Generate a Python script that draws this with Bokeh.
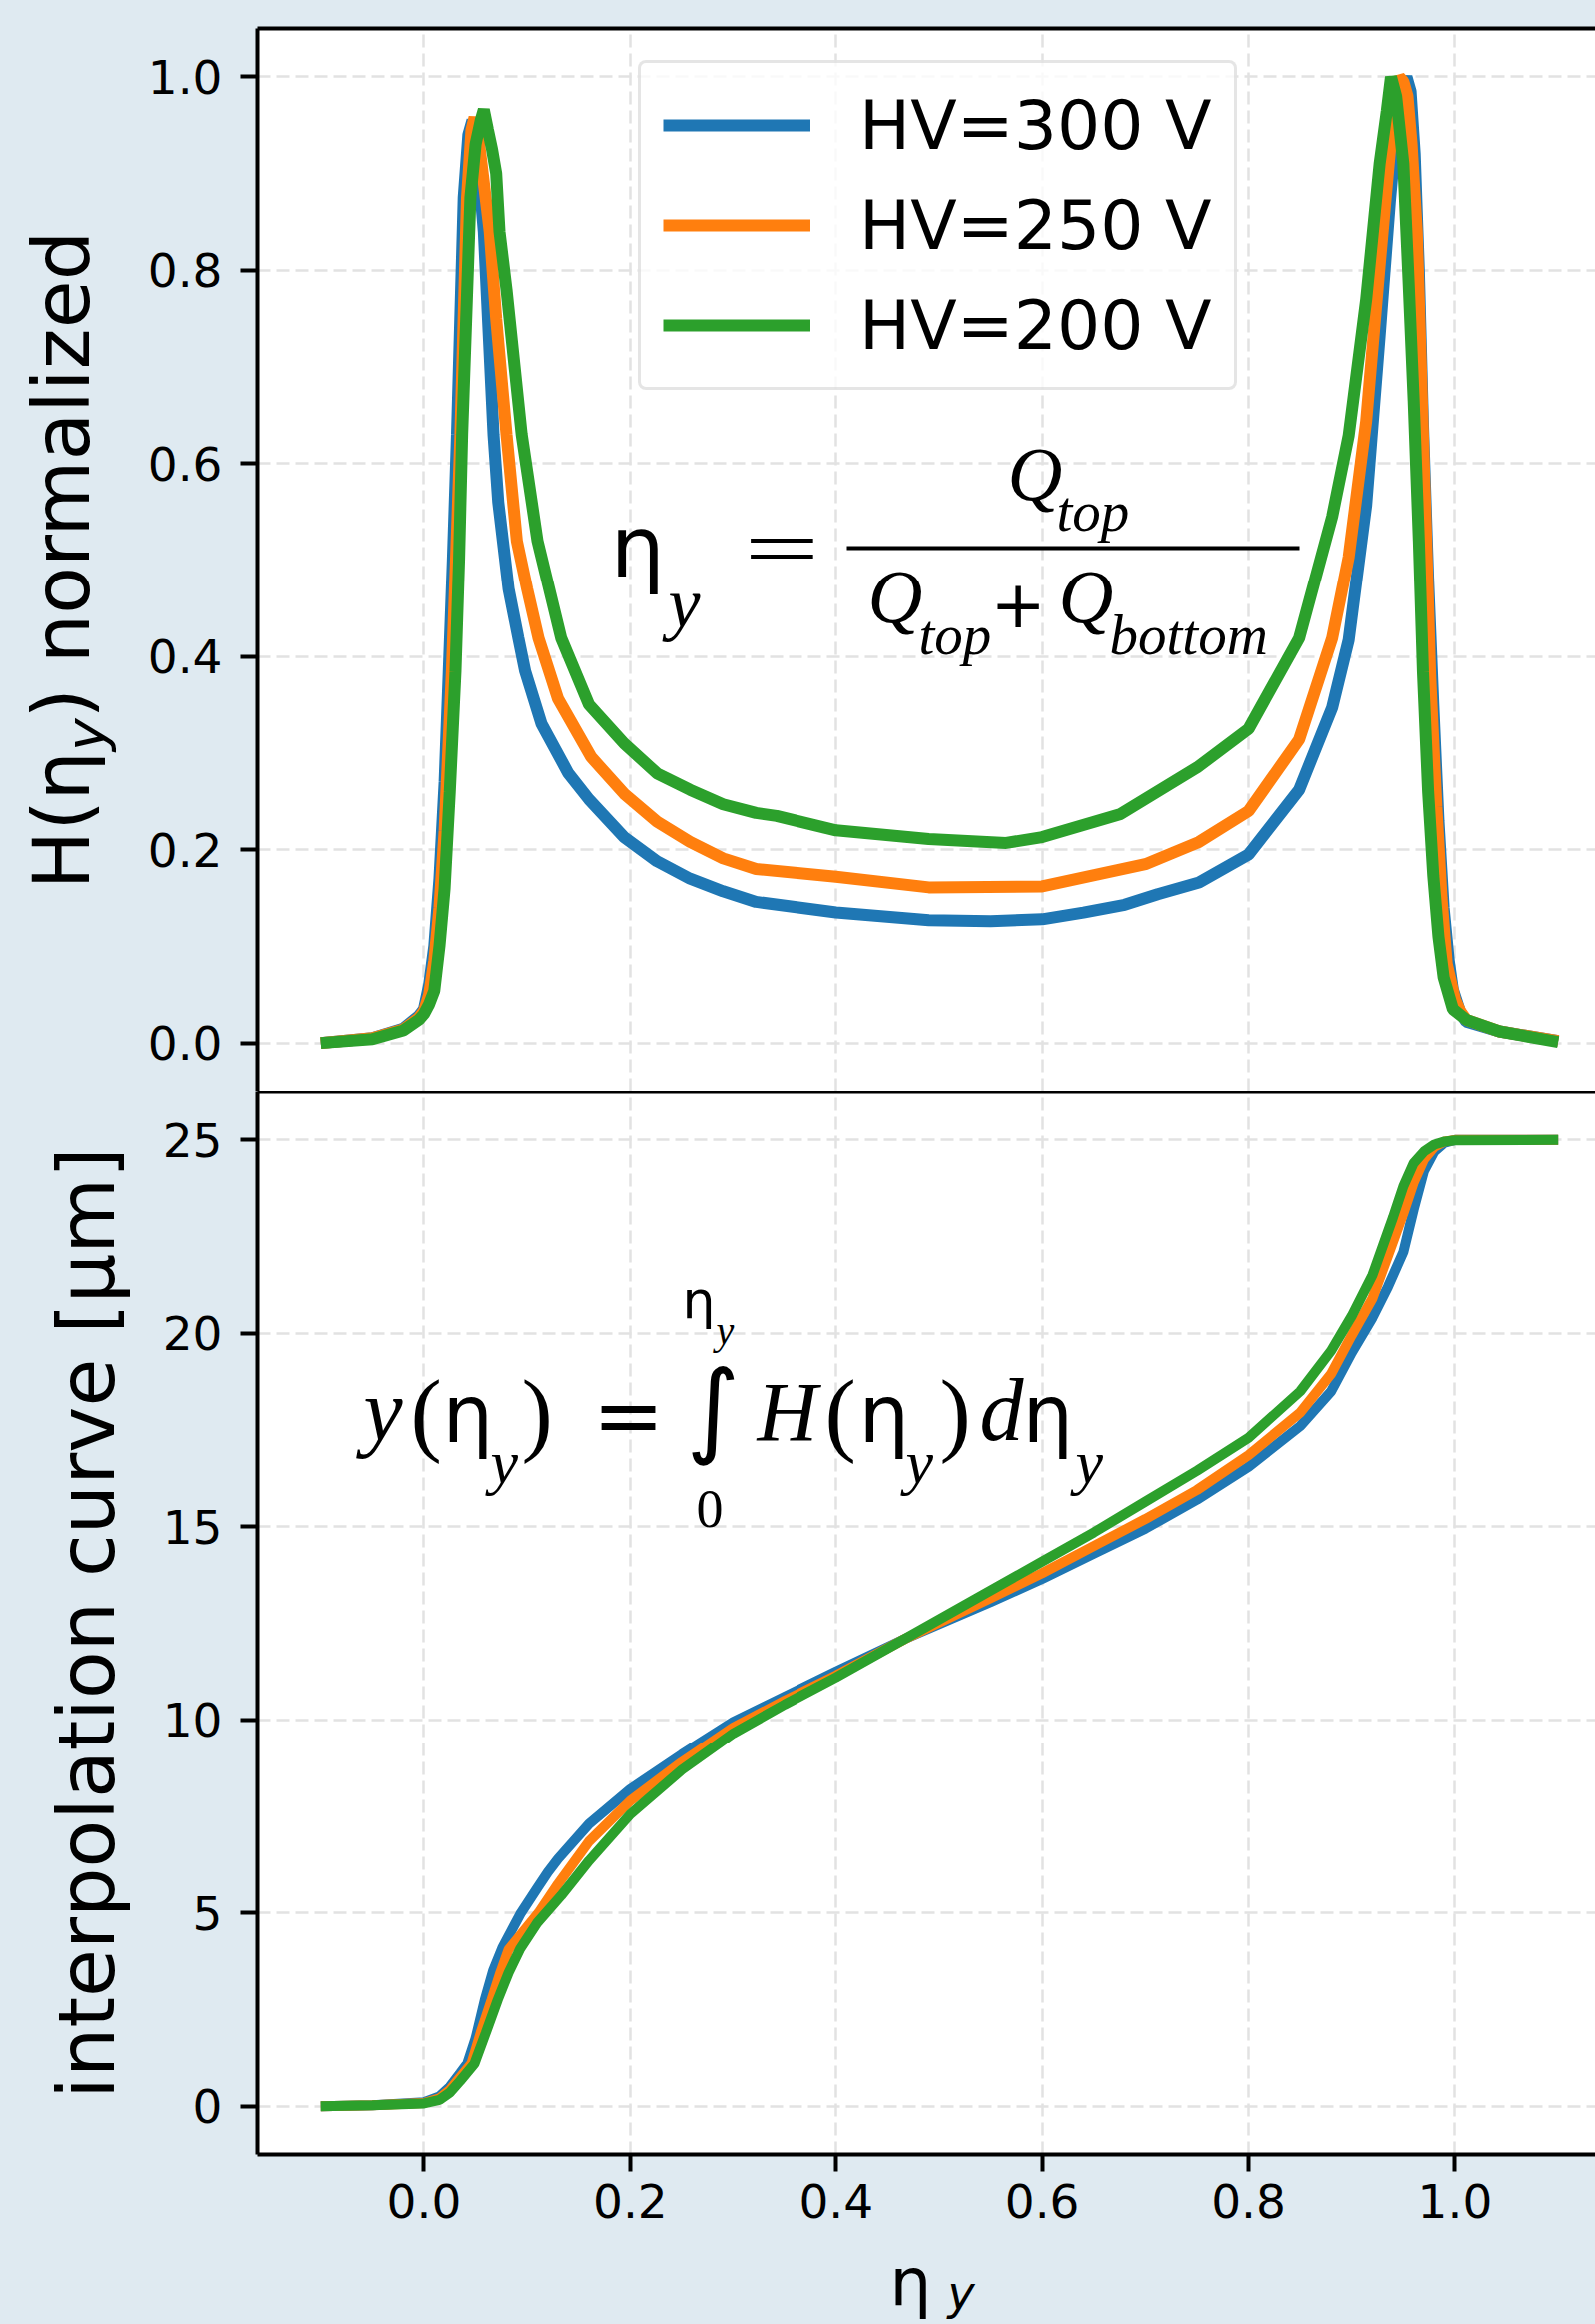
import math
from bokeh.plotting import figure
from bokeh.layouts import column, row
from bokeh.models import (Range1d, LinearAxis, FixedTicker, PrintfTickFormatter,
                          Grid, Label, BoxAnnotation)
from bokeh.embed import file_html
from bokeh.resources import INLINE

# ---------------- data ----------------
series_labels = ["HV=300 V", "HV=250 V", "HV=200 V"]
series_colors = ["#1f77b4", "#ff7f0e", "#2ca02c"]

# top panel: normalised eta distribution H(eta_y)
h300_x = [-0.100, -0.050, -0.020, -0.005, 0.000, 0.005, 0.010, 0.015, 0.020, 0.024, 0.028, 0.032,
          0.0385, 0.043, 0.047, 0.052, 0.058, 0.0674, 0.072, 0.082, 0.0915, 0.098, 0.114, 0.140,
          0.160, 0.194, 0.226, 0.258, 0.290, 0.322, 0.400, 0.490, 0.550, 0.600, 0.640, 0.680,
          0.712, 0.752, 0.800, 0.849, 0.881, 0.897, 0.914, 0.927, 0.937, 0.946, 0.953, 0.957,
          0.961, 0.965, 0.969, 0.974, 0.979, 0.984, 0.989, 0.994, 0.998, 1.005, 1.011, 1.043, 1.100]
h300_y = [0.000, 0.005, 0.015, 0.028, 0.035, 0.060, 0.100, 0.170, 0.270, 0.384, 0.500, 0.630,
          0.875, 0.940, 0.955, 0.915, 0.840, 0.630, 0.560, 0.470, 0.419, 0.385, 0.330, 0.279,
          0.252, 0.213, 0.188, 0.170, 0.157, 0.146, 0.135, 0.127, 0.126, 0.128, 0.135, 0.143,
          0.154, 0.166, 0.195, 0.262, 0.347, 0.417, 0.557, 0.732, 0.872, 0.977, 1.000, 0.985,
          0.920, 0.800, 0.640, 0.480, 0.350, 0.230, 0.140, 0.085, 0.055, 0.032, 0.022, 0.012, 0.002]

h250_x = [-0.100, -0.050, -0.020, -0.005, 0.000, 0.005, 0.010, 0.015, 0.020, 0.027, 0.031, 0.0353,
          0.0417, 0.046, 0.049, 0.053, 0.0637, 0.070, 0.080, 0.090, 0.100, 0.111, 0.130, 0.162,
          0.194, 0.226, 0.258, 0.290, 0.322, 0.400, 0.490, 0.600, 0.700, 0.752, 0.800, 0.849,
          0.881, 0.897, 0.914, 0.927, 0.937, 0.946, 0.950, 0.954, 0.958, 0.963, 0.967, 0.972,
          0.976, 0.982, 0.987, 0.992, 1.000, 1.005, 1.011, 1.043, 1.100]
h250_y = [0.000, 0.005, 0.014, 0.026, 0.033, 0.050, 0.085, 0.140, 0.220, 0.384, 0.500, 0.630,
          0.875, 0.945, 0.958, 0.935, 0.840, 0.750, 0.630, 0.520, 0.470, 0.419, 0.356, 0.296,
          0.258, 0.229, 0.208, 0.191, 0.180, 0.172, 0.161, 0.162, 0.185, 0.208, 0.240, 0.314,
          0.419, 0.503, 0.644, 0.805, 0.924, 1.000, 0.995, 0.980, 0.930, 0.840, 0.700, 0.524,
          0.380, 0.244, 0.150, 0.082, 0.045, 0.033, 0.024, 0.012, 0.002]

h200_x = [-0.100, -0.050, -0.020, -0.005, 0.000, 0.005, 0.010, 0.015, 0.020, 0.025, 0.0305, 0.034,
          0.037, 0.045, 0.050, 0.055, 0.058, 0.062, 0.066, 0.070, 0.0732, 0.080, 0.0947, 0.110,
          0.133, 0.160, 0.194, 0.226, 0.258, 0.290, 0.322, 0.342, 0.400, 0.490, 0.565, 0.600,
          0.676, 0.750, 0.800, 0.849, 0.881, 0.897, 0.914, 0.927, 0.934, 0.938, 0.943, 0.950,
          0.955, 0.960, 0.965, 0.969, 0.974, 0.979, 0.984, 0.989, 0.998, 1.011, 1.043, 1.100]
h200_y = [0.000, 0.004, 0.013, 0.024, 0.030, 0.040, 0.054, 0.100, 0.160, 0.260, 0.384, 0.500,
          0.630, 0.875, 0.930, 0.955, 0.966, 0.945, 0.925, 0.900, 0.840, 0.780, 0.630, 0.520,
          0.419, 0.350, 0.310, 0.279, 0.262, 0.247, 0.238, 0.235, 0.220, 0.211, 0.207, 0.213,
          0.237, 0.285, 0.325, 0.419, 0.545, 0.629, 0.770, 0.910, 0.965, 1.000, 0.980, 0.910,
          0.790, 0.665, 0.520, 0.384, 0.260, 0.173, 0.110, 0.068, 0.035, 0.024, 0.012, 0.001]

# bottom panel: interpolation curve y(eta_y) in micrometres
y300_x = [-0.100, -0.050, 0.000, 0.015, 0.025, 0.035, 0.042, 0.050, 0.059, 0.067, 0.076, 0.094,
          0.110, 0.120, 0.130, 0.160, 0.200, 0.250, 0.300, 0.350, 0.400, 0.467, 0.550, 0.600,
          0.650, 0.700, 0.750, 0.800, 0.850, 0.880, 0.900, 0.920, 0.935, 0.950, 0.960, 0.970,
          0.980, 0.990, 1.000, 1.100]
y300_y = [0.00, 0.02, 0.10, 0.25, 0.50, 0.85, 1.10, 1.75, 2.75, 3.50, 4.10, 5.00,
          5.65, 6.05, 6.40, 7.30, 8.20, 9.10, 9.95, 10.60, 11.25, 12.10, 13.05, 13.65,
          14.30, 14.95, 15.70, 16.55, 17.60, 18.50, 19.50, 20.40, 21.20, 22.10, 23.20, 24.20,
          24.70, 24.93, 25.00, 25.00]

y250_x = [-0.100, -0.050, 0.000, 0.015, 0.025, 0.035, 0.046, 0.055, 0.0655, 0.074, 0.082, 0.111,
          0.130, 0.160, 0.200, 0.250, 0.300, 0.350, 0.400, 0.467, 0.550, 0.600, 0.650, 0.700,
          0.750, 0.800, 0.850, 0.880, 0.900, 0.920, 0.935, 0.950, 0.960, 0.970, 0.980, 0.990,
          1.000, 1.100]
y250_y = [0.00, 0.02, 0.08, 0.20, 0.42, 0.75, 1.10, 1.90, 2.75, 3.45, 4.05, 5.00,
          5.75, 6.85, 7.90, 8.90, 9.80, 10.50, 11.15, 12.10, 13.15, 13.80, 14.50, 15.20,
          15.95, 16.85, 17.95, 18.95, 19.95, 20.90, 22.00, 23.10, 23.90, 24.50, 24.82, 24.96,
          25.00, 25.00]

y200_x = [-0.100, -0.050, 0.000, 0.015, 0.025, 0.035, 0.049, 0.060, 0.0715, 0.082, 0.093, 0.110,
          0.133, 0.160, 0.200, 0.250, 0.300, 0.350, 0.400, 0.467, 0.550, 0.600, 0.650, 0.700,
          0.750, 0.800, 0.850, 0.880, 0.900, 0.920, 0.940, 0.950, 0.960, 0.970, 0.980, 0.990,
          1.000, 1.100]
y200_y = [0.00, 0.02, 0.07, 0.16, 0.35, 0.65, 1.10, 1.90, 2.75, 3.45, 4.06, 4.75,
          5.45, 6.35, 7.55, 8.70, 9.65, 10.40, 11.10, 12.10, 13.35, 14.10, 14.85, 15.65,
          16.45, 17.30, 18.50, 19.55, 20.45, 21.50, 23.00, 23.80, 24.40, 24.70, 24.88, 24.96,
          24.99, 25.00]

x_ticks = [0.0, 0.2, 0.4, 0.6, 0.8, 1.0]
top_y_ticks = [0.0, 0.2, 0.4, 0.6, 0.8, 1.0]
bottom_y_ticks = [0, 5, 10, 15, 20, 25]

top_series = [(h300_x, h300_y), (h250_x, h250_y), (h200_x, h200_y)]
bottom_series = [(y300_x, y300_y), (y250_x, y250_y), (y200_x, y200_y)]

# ---------------- layout (page is 1596 x 2326, no body margin) ----------------
BG = "#dfeaf1"
GRID = "#e2e2e2"
PAGE_W, PAGE_H = 1596, 2326
STRIP_W = 140                      # left strip holding the rotated y labels
MAIN_W = PAGE_W - STRIP_W
FRAME_L = 257                      # page x of the plot frames' left edge
P1_TOP = 28                        # page y of the top frame
MID = 1092                         # page y where the two panels meet
P2_FRAME_BOTTOM = 2156
P2_BOTTOM_BORDER = 86
P1_H = MID
P2_H = P2_FRAME_BOTTOM + P2_BOTTOM_BORDER - MID
XSTRIP_TOP = MID + P2_H
XSTRIP_H = PAGE_H - XSTRIP_TOP

X0 = -0.1613
X1 = X0 + (PAGE_W - FRAME_L) / 1032.0
TY0, TY1 = -0.05, 1.05
BY0, BY1 = -1.25, 26.25
LW_TOP = 12
LW_BOTTOM = 10
SANS = "DejaVu Sans"
SERIF = "Liberation Serif"
K = 0.38        # baseline correction (fraction of font size) for horizontal labels
K_ROT = 0.46    # same for the rotated labels

x_range = Range1d(X0, X1)


# page-pixel -> data helpers (annotation placement only)
def tx(px):
    return X0 + (px - FRAME_L) / 1032.0


def ty1(py):
    return TY1 - (py - P1_TOP) * (TY1 - TY0) / (MID - P1_TOP)


def ty2(py):
    return BY1 - (py - MID) * (BY1 - BY0) / (P2_FRAME_BOTTOM - MID)


def tyx(py):
    return py


def style_axis(ax):
    ax.axis_line_width = 4
    ax.axis_line_color = "black"
    ax.major_tick_line_width = 4
    ax.major_tick_out = 17
    ax.major_tick_in = 0
    ax.minor_tick_line_color = None
    ax.major_label_text_font = SANS
    ax.major_label_text_font_size = "47px"
    ax.major_label_text_color = "black"


def spine_axis():
    return LinearAxis(ticker=FixedTicker(ticks=[]), major_tick_out=0, major_tick_in=0,
                      minor_tick_out=0, minor_tick_in=0, major_label_text_font_size="0px",
                      major_label_standoff=0, axis_line_width=4, axis_line_color="black")


def add_grids(p, yticks):
    p.add_layout(Grid(dimension=0, ticker=FixedTicker(ticks=x_ticks), grid_line_color=GRID,
                      grid_line_dash="13 6", grid_line_width=2.5))
    p.add_layout(Grid(dimension=1, ticker=FixedTicker(ticks=yticks), grid_line_color=GRID,
                      grid_line_dash="13 6", grid_line_width=2.5))


def put(p, text, px, base_py, convx, convy, font, size, style="normal"):
    """horizontal text whose baseline should sit at page y = base_py"""
    p.add_layout(Label(x=convx(px), y=convy(base_py - K * size), text=text, text_font=font,
                       text_font_size=f"{size}px", text_font_style=style,
                       text_color="black", text_align="left", text_baseline="alphabetic"))


def put_rot(p, text, base_px, py, font, size, style="normal", align="left"):
    """text rotated by 90 degrees whose baseline should sit at page x = base_px"""
    p.add_layout(Label(x=base_px - K_ROT * size, y=py, text=text, text_font=font,
                       text_font_size=f"{size}px", text_font_style=style,
                       text_color="black", text_align=align, text_baseline="alphabetic",
                       angle=math.pi / 2))


def strip(width, height, xr, yr, left_border=0):
    s = figure(width=width, height=height, x_range=xr, y_range=yr,
               x_axis_location=None, y_axis_location=None,
               min_border_left=left_border, min_border_right=0, min_border_top=0,
               min_border_bottom=0, output_backend="svg", toolbar_location=None,
               background_fill_color=BG, border_fill_color=BG, outline_line_color=None)
    s.grid.visible = False
    return s


# ---------- top figure ----------
p1 = figure(width=MAIN_W, height=P1_H, x_range=x_range, y_range=Range1d(TY0, TY1),
            x_axis_location=None, y_axis_location="left",
            min_border_left=FRAME_L - STRIP_W, min_border_right=0, min_border_top=P1_TOP,
            min_border_bottom=0, output_backend="svg", toolbar_location=None,
            background_fill_color="white", border_fill_color=BG, outline_line_color=None)
p1.grid.visible = False
style_axis(p1.yaxis[0])
p1.yaxis[0].ticker = FixedTicker(ticks=top_y_ticks)
p1.yaxis[0].formatter = PrintfTickFormatter(format="%.1f")
p1.yaxis[0].major_label_standoff = 18
p1.add_layout(spine_axis(), "above")
add_grids(p1, top_y_ticks)

for (xs, ys), c, lab in zip(top_series, series_colors, series_labels):
    p1.line(xs, ys, line_color=c, line_width=LW_TOP, legend_label=lab)

lg = p1.legend[0]
lg.location = (381, 702)
lg.label_text_font = SANS
lg.label_text_font_size = "68px"
lg.label_text_color = "black"
lg.label_height = 80
lg.glyph_width = 148
lg.glyph_height = 80
lg.label_standoff = 49
lg.padding = 22
lg.spacing = 20
lg.margin = 0
lg.border_line_color = "#cccccc"
lg.border_line_width = 3
lg.background_fill_color = "white"
lg.background_fill_alpha = 0.8
if "border_radius" in lg.properties():
    lg.border_radius = 8

# formula: eta_y = Q_top / (Q_top + Q_bottom)   (positions are baselines in page px)
put(p1, "η", 610, 579, tx, ty1, SANS, 86)
put(p1, "y", 668, 631, tx, ty1, SERIF, 72, "italic")
put(p1, "=", 740, 583, tx, ty1, SANS, 100)
put(p1, "Q", 1008, 502, tx, ty1, SERIF, 76, "italic")
put(p1, "top", 1057, 533, tx, ty1, SERIF, 57, "italic")
put(p1, "Q", 868, 625, tx, ty1, SERIF, 76, "italic")
put(p1, "top", 919, 657, tx, ty1, SERIF, 57, "italic")
put(p1, "+", 991, 628, tx, ty1, SANS, 66)
put(p1, "Q", 1059, 625, tx, ty1, SERIF, 76, "italic")
put(p1, "bottom", 1110, 657, tx, ty1, SERIF, 57, "italic")
p1.add_layout(BoxAnnotation(left=tx(847), right=tx(1300), top=ty1(546), bottom=ty1(550),
                            fill_color="black", fill_alpha=1.0, line_color=None))

# ---------- bottom figure ----------
p2 = figure(width=MAIN_W, height=P2_H, x_range=x_range, y_range=Range1d(BY0, BY1),
            min_border_left=FRAME_L - STRIP_W, min_border_right=0, min_border_top=0,
            min_border_bottom=P2_BOTTOM_BORDER, output_backend="svg", toolbar_location=None,
            background_fill_color="white", border_fill_color=BG, outline_line_color=None)
p2.grid.visible = False
style_axis(p2.xaxis[0])
style_axis(p2.yaxis[0])
p2.xaxis[0].ticker = FixedTicker(ticks=x_ticks)
p2.xaxis[0].formatter = PrintfTickFormatter(format="%.1f")
p2.xaxis[0].major_label_standoff = 12
p2.yaxis[0].ticker = FixedTicker(ticks=bottom_y_ticks)
p2.yaxis[0].major_label_standoff = 18
p2.add_layout(spine_axis(), "above")
add_grids(p2, bottom_y_ticks)

for (xs, ys), c in zip(bottom_series, series_colors):
    p2.line(xs, ys, line_color=c, line_width=LW_BOTTOM)

# formula: y(eta_y) = int_0^{eta_y} H(eta_y) d eta_y   (baselines in page px)
put(p2, "y", 363, 1444, tx, ty2, SERIF, 88, "italic")
put(p2, "(", 410, 1448, tx, ty2, SERIF, 94)
put(p2, "η", 442, 1445, tx, ty2, SANS, 80)
put(p2, "y", 490, 1486, tx, ty2, SERIF, 62, "italic")
put(p2, ")", 521, 1448, tx, ty2, SERIF, 94)
put(p2, "=", 592, 1448, tx, ty2, SANS, 86)
put(p2, "∫", 686, 1448, tx, ty2, SANS, 103)
put(p2, "η", 682, 1320, tx, ty2, SANS, 52)
put(p2, "y", 716, 1346, tx, ty2, SERIF, 40, "italic")
put(p2, "0", 696, 1530, tx, ty2, SERIF, 54)
put(p2, "H", 757, 1445, tx, ty2, SERIF, 84, "italic")
put(p2, "(", 825, 1448, tx, ty2, SERIF, 94)
put(p2, "η", 859, 1445, tx, ty2, SANS, 80)
put(p2, "y", 906, 1486, tx, ty2, SERIF, 62, "italic")
put(p2, ")", 940, 1448, tx, ty2, SERIF, 94)
put(p2, "d", 980, 1444, tx, ty2, SERIF, 88, "italic")
put(p2, "η", 1023, 1445, tx, ty2, SANS, 80)
put(p2, "y", 1076, 1486, tx, ty2, SERIF, 62, "italic")

# ---------- left strip: rotated y-axis labels ----------
left = strip(STRIP_W, PAGE_H, Range1d(0, STRIP_W), Range1d(PAGE_H, 0))
put_rot(left, "H(η", 97, 890, SANS, 78)
put_rot(left, "y", 111, 751.5, SANS, 55, "italic")
put_rot(left, ") normalized", 97, 719, SANS, 78)
put_rot(left, "interpolation curve [μm]", 122, (MID + P2_FRAME_BOTTOM) / 2.0, SANS, 78,
        "normal", "center")

# ---------- bottom strip: x-axis label eta_y ----------
xstrip = strip(MAIN_W, XSTRIP_H, x_range, Range1d(PAGE_H, XSTRIP_TOP),
               left_border=FRAME_L - STRIP_W)
put(xstrip, "η", 890, 2309, tx, tyx, SANS, 66)
put(xstrip, "y", 948, 2312, tx, tyx, SANS, 46, "italic")

layout = row(left, column(p1, p2, xstrip, spacing=0, styles={"background-color": BG}),
             spacing=0, styles={"background-color": BG})
open("out.html", "w").write(file_html(layout, INLINE))
